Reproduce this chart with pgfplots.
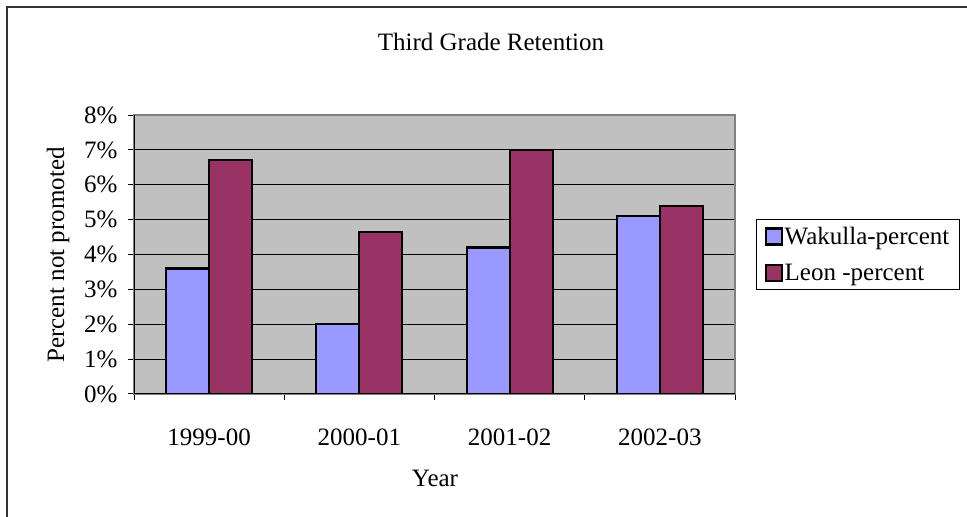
\documentclass[border=0pt]{standalone}
\usepackage{pgfplots}
\pgfplotsset{compat=1.18}
\usepackage{fontspec}
\setmainfont{Liberation Serif}
\definecolor{wak}{HTML}{9999FF}
\definecolor{leon}{HTML}{993366}
\definecolor{plotbg}{HTML}{C0C0C0}
\begin{document}
\begin{tikzpicture}[font=\fontsize{25bp}{30bp}\selectfont]
\path[use as bounding box] (0bp,0bp) rectangle (967bp,517bp);
\draw[line width=1.5bp, black!80] (7bp,0bp) -- (7bp,510bp) -- (967bp,510bp);
\node at (491bp,475bp) {Third Grade Retention};
\node at (435bp,39bp) {Year};
\node[rotate=90] at (58bp,262bp) {Percent not promoted};
\coordinate (A) at (134bp,123bp);
\begin{axis}[
  at={(A)}, anchor=south west,
  width=601bp, height=279bp, scale only axis,
  xmin=-0.5, xmax=3.5, ymin=0, ymax=8,
  ybar=0pt, bar width=43bp,
  axis background/.style={fill=plotbg},
  axis line style={draw=gray, line width=1.5bp},
  ymajorgrids, grid style={black, line width=0.8bp},
  ytick={0,1,...,8},
  yticklabel={\pgfmathprintnumber{\tick}\%},
  /pgf/number format/assume math mode=true,
  xtick={0,1,2,3},
  xticklabels={1999-00,2000-01,2001-02,2002-03},
  minor xtick={-0.5,0.5,1.5,2.5,3.5},
  major x tick style={draw=none},
  tick align=outside, tick pos=left,
  major tick length=6bp, minor tick length=6bp,
  every tick/.style={black, line width=1bp},
  minor x tick style={black, line width=1bp},
  xticklabel style={yshift=-25bp},
  yticklabel style={xshift=-7bp},
  legend style={at={(1,0.5)}, anchor=west, xshift=21bp, draw=black, line width=1bp,
    inner xsep=8bp, inner ysep=6bp, row sep=14bp},
  legend cell align=left,
  legend image code/.code={\draw[#1,draw=black,line width=2.2bp] (0bp,-8bp) rectangle (16bp,8bp);},
]
\addplot[fill=wak, draw=black, line width=2.2bp] coordinates {(0,3.6) (1,2.0) (2,4.2) (3,5.1)};
\addplot[fill=leon, draw=black, line width=2.2bp] coordinates {(0,6.7) (1,4.65) (2,7.0) (3,5.4)};
\legend{Wakulla-percent, Leon -percent}
\draw[black, line width=1.5bp] (rel axis cs:0,1) -- (rel axis cs:0,0) -- (rel axis cs:1,0);
\end{axis}
\end{tikzpicture}
\end{document}
